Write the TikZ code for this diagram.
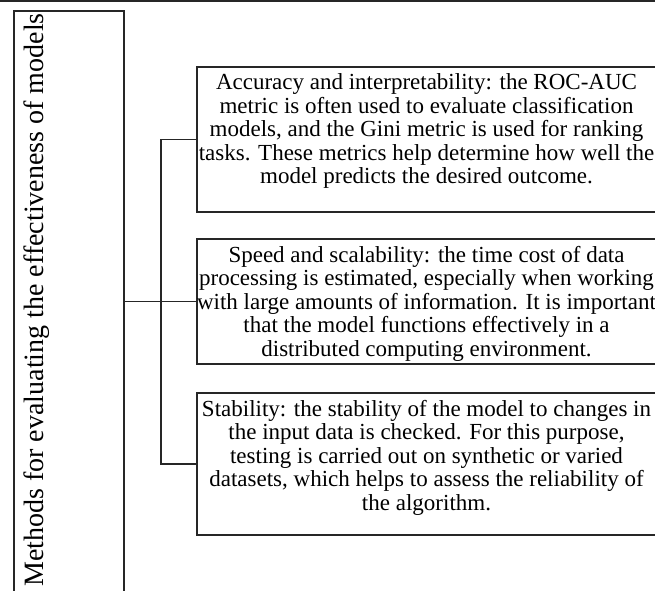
\documentclass[tikz,border=0pt]{standalone}
\usepackage{fontspec}
\setmainfont{Liberation Serif}
\usetikzlibrary{positioning}
\newcommand{\itemfont}{\fontsize{23}{23.5}\selectfont}

\begin{document}
\begin{tikzpicture}[x=1pt, y=-1pt,
  frame/.style={draw=black!85, line width=1.8pt, inner sep=0pt},
  itembox/.style={frame, minimum width=459pt},
  itemtext/.style={align=center, inner sep=0pt, font=\itemfont},
  wire/.style={draw=black!85, line width=1.8pt}]

 \useasboundingbox (0,0) rectangle (655,590);
 \clip (0,0) rectangle (655,590);

 %%%%%%%%%%%%%% TOP RULE %%%%%%%%%%%%%%
 \coordinate (ruleL) at (0,1);
 \coordinate (ruleR) at (655,1);
 \draw [wire] (ruleL) -- (ruleR);

 %%%%%%%%%%%%%% LEFT BOX %%%%%%%%%%%%%%
 \node [frame, minimum width=110pt, minimum height=590pt] (methods) at (69,306) {};
 \node [rotate=90, anchor=base, inner sep=0pt, font=\fontsize{28}{28}\selectfont]
   (methodsText) at (43,300) {Methods for evaluating the effectiveness of models};

 %%%%%%%%%%%%%% ITEM BOXES %%%%%%%%%%%%%%
 \node [itembox, minimum height=145pt] (accuracy) at (426.5,139.5) {};
 \node [itembox, minimum height=125pt] (speed) at (426.5,301.5) {};
 \node [itembox, minimum height=142pt] (stability) at (426.5,464) {};

 % Box texts
 \node [itemtext, below=7.5pt of accuracy.north] (accuracyText) {Accuracy and interpretability: the ROC-AUC\\
   metric is often used to evaluate classification\\
   models, and the Gini metric is used for ranking\\
   tasks. These metrics help determine how well the\\
   model predicts the desired outcome.};
 \node [itemtext, below=7.5pt of speed.north] (speedText) {Speed and scalability: the time cost of data\\
   processing is estimated, especially when working\\
   with large amounts of information. It is important\\
   that the model functions effectively in a\\
   distributed computing environment.};
 \node [itemtext, below=7.5pt of stability.north] (stabilityText) {Stability: the stability of the model to changes in\\
   the input data is checked. For this purpose,\\
   testing is carried out on synthetic or varied\\
   datasets, which helps to assess the reliability of\\
   the algorithm.};

 %%%%% Connectors %%%%%
 \coordinate (bus) at (161,0);
 \draw [wire] (methods.east |- speed.west) -- (speed.west);
 \draw [wire] (accuracy.west) -- (accuracy.west -| bus) -- (stability.west -| bus) -- (stability.west);

\end{tikzpicture}
\end{document}
